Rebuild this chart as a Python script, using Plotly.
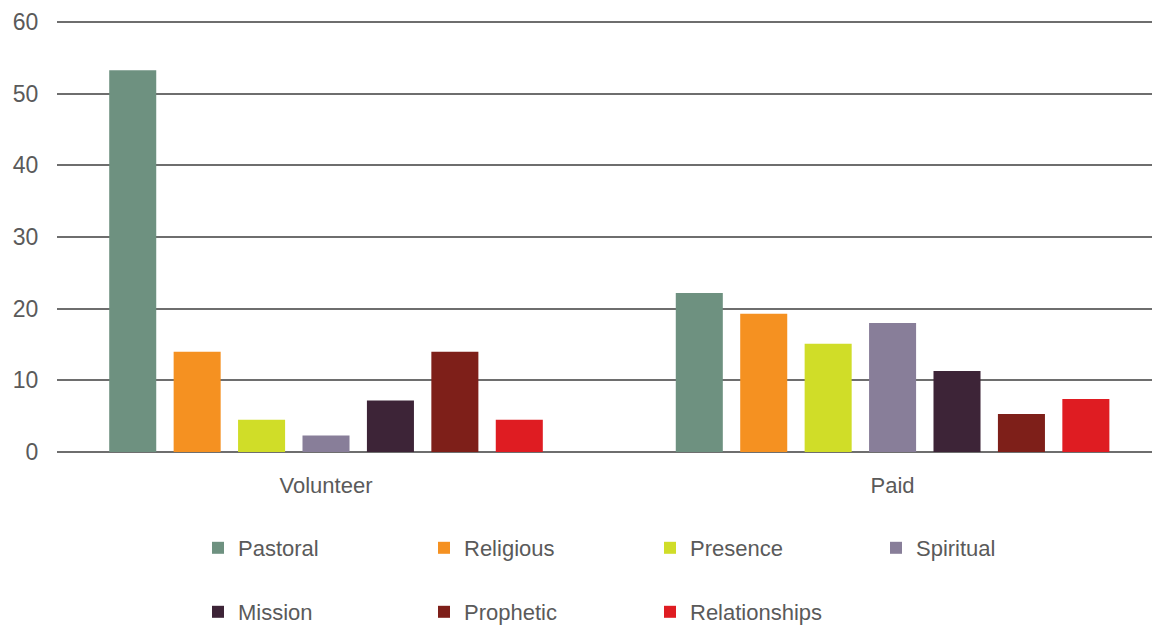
import plotly.graph_objects as go

categories = ["Volunteer", "Paid"]
series_names = ["Pastoral", "Religious", "Presence", "Spiritual", "Mission", "Prophetic", "Relationships"]
pastoral = [53.3, 22.2]
religious = [14.0, 19.3]
presence = [4.5, 15.1]
spiritual = [2.3, 18.0]
mission = [7.2, 11.3]
prophetic = [14.0, 5.3]
relationships = [4.5, 7.4]
y_ticks = [0, 10, 20, 30, 40, 50, 60]

values = [pastoral, religious, presence, spiritual, mission, prophetic, relationships]
colors = ["#6e9180", "#f59121", "#d0dd28", "#887e99", "#3d2437", "#7e1f19", "#df1c22"]

fig = go.Figure()
for i, (name, vals, col) in enumerate(zip(series_names, values, colors)):
    fig.add_trace(go.Bar(
        x=categories, y=vals, name=name, marker=dict(color=col, line=dict(width=0)),
        legend="legend" if i < 4 else "legend2",
    ))

W, H = 1152, 618
font_family = "Liberation Sans, Arial, sans-serif"
text_color = "#5a5a5a"
legend_common = dict(
    orientation="h", xref="container", yref="container", xanchor="left", yanchor="middle",
    entrywidth=181, entrywidthmode="pixels", font=dict(size=22, color=text_color, family=font_family),
    bgcolor="rgba(0,0,0,0)", itemclick=False, itemdoubleclick=False,
)

fig.update_layout(
    width=W, height=H,
    margin=dict(l=49, r=0, t=12, b=174, autoexpand=False),
    paper_bgcolor="white", plot_bgcolor="white",
    barmode="group", bargap=0.204, bargroupgap=0.27,
    font=dict(family=font_family, size=22, color=text_color),
    xaxis=dict(range=[-0.4748, 1.472], showgrid=False, showline=False,
               ticks="outside", ticklen=14, tickcolor="rgba(0,0,0,0)",
               tickfont=dict(size=22, color=text_color)),
    yaxis=dict(range=[0, 60.3], tickvals=y_ticks, showgrid=True, gridcolor="#6e6e6e", gridwidth=1.5,
               zeroline=True, zerolinecolor="#6e6e6e", zerolinewidth=1.5, showline=False,
               ticks="outside", ticklen=13, tickcolor="rgba(0,0,0,0)",
               tickfont=dict(size=23, color=text_color)),
    legend=dict(x=190 / W, y=1 - 540 / H, **legend_common),
    legend2=dict(x=190 / W, y=1 - 604 / H, **legend_common),
    showlegend=True,
)

fig.write_html("out.html")
